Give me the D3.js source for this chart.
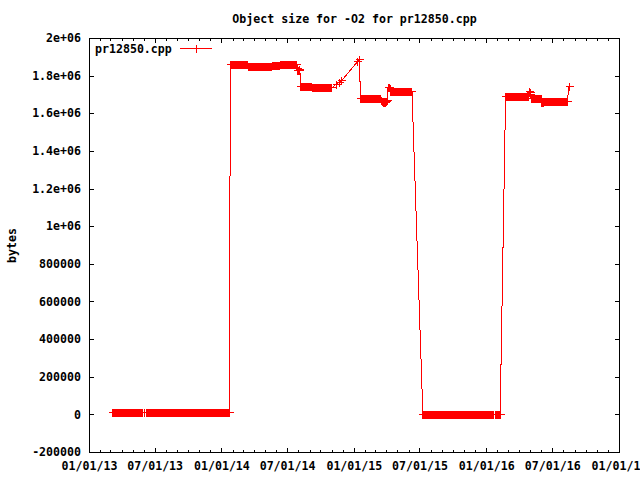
<!DOCTYPE html>
<html>
<head>
<meta charset="utf-8">
<script src="https://cdn.jsdelivr.net/npm/d3@7"></script>
<style>
body { margin: 0; background: #fff; }
text { font-family: "DejaVu Sans Mono", monospace; font-size: 11.6px; font-weight: bold; fill: #000; }
</style>
</head>
<body>
<script>
var width = 640,
    height = 480;

// axis ticks
var xTicks = ["2013-01-01", "2013-07-01", "2014-01-01", "2014-07-01", "2015-01-01",
              "2015-07-01", "2016-01-01", "2016-07-01", "2017-01-01"];
var xTickLabels = ["01/01/13", "07/01/13", "01/01/14", "07/01/14", "01/01/15",
                   "07/01/15", "01/01/16", "07/01/16", "01/01/17"];
var yTicks = [-200000, 0, 200000, 400000, 600000, 800000, 1000000,
              1200000, 1400000, 1600000, 1800000, 2000000];
var yTickLabels = ["-200000", "0", "200000", "400000", "600000", "800000", "1e+06",
                   "1.2e+06", "1.4e+06", "1.6e+06", "1.8e+06", "2e+06"];

// object size in kB, one build every 2 days from the run's start date
var runStarts = ["2013-03-06", "2013-06-06", "2014-01-24", "2015-01-18",
                 "2015-07-09", "2016-01-26", "2016-02-22"];

var size2013a = [
  10, 10, 10, 10, 10, 10, 10, 10, 10, 10, 10, 10, 10, 10, 10, 10, 10, 10, 10, 10,
  10, 10, 10, 10, 10, 10, 10, 10, 10, 10, 10, 10, 10, 10, 10, 10, 10, 10, 10, 10,
  10, 10];

var size2013b = [
  10, 10, 10, 10, 10, 10, 10, 10, 10, 10, 10, 10, 10, 10, 10, 10, 10, 10, 10, 10,
  10, 10, 10, 10, 10, 10, 10, 10, 10, 10, 10, 10, 10, 10, 10, 10, 10, 10, 10, 10,
  10, 10, 10, 10, 10, 10, 10, 10, 10, 10, 10, 10, 10, 10, 10, 10, 10, 10, 10, 10,
  10, 10, 10, 10, 10, 10, 10, 10, 10, 10, 10, 10, 10, 10, 10, 10, 10, 10, 10, 10,
  10, 10, 10, 10, 10, 10, 10, 10, 10, 10, 10, 10, 10, 10, 10, 10, 10, 10, 10, 10,
  10, 10, 10, 10, 10, 10, 10, 10, 10, 10, 10, 10, 10, 10, 10, 10];

var size2014 = [
  1860, 1860, 1860, 1860, 1860, 1860, 1860, 1860, 1860, 1860, 1860, 1860, 1860, 1860, 1860, 1860, 1860, 1860, 1860, 1860,
  1860, 1860, 1860, 1860, 1860,
  1852, 1852, 1852, 1852, 1852, 1852, 1852, 1852, 1852, 1852, 1852, 1852, 1852, 1852, 1852, 1852, 1852, 1852, 1852, 1852,
  1852, 1852, 1852, 1852, 1852, 1852, 1852, 1852, 1852, 1852, 1852, 1852, 1852,
  1857, 1857, 1857, 1857, 1857, 1857, 1857, 1857, 1857, 1857, 1857,
  1860, 1860, 1860, 1860, 1860, 1860, 1860, 1860, 1860, 1860, 1860, 1860, 1860, 1860, 1860, 1860, 1860, 1860, 1860, 1860,
  1860, 1860, 1860,
  1840, 1832, 1828, 1836, 1830,
  1745, 1745, 1745, 1745, 1745, 1745, 1745, 1745, 1745, 1745, 1745, 1745, 1745, 1745, 1745, 1745,
  1742, 1742, 1742, 1742, 1742, 1742, 1742, 1742, 1742, 1742,
  1737, 1737, 1737, 1737, 1737, 1737, 1737, 1737, 1737, 1737, 1737, 1737, 1737, 1737, 1737, 1737, 1737, 1737];

var size2015a = [
  1680, 1680, 1680, 1680, 1680, 1680, 1680, 1680, 1680, 1680, 1680, 1680, 1680, 1680, 1680, 1680, 1680, 1680, 1680, 1680,
  1680, 1680, 1680, 1680, 1680, 1680, 1680, 1680, 1680,
  1668, 1666, 1664, 1662, 1658, 1662, 1664, 1666, 1668,
  1742, 1740, 1738, 1735,
  1718, 1718, 1718, 1718, 1718, 1718, 1718, 1718, 1718, 1718, 1718, 1718, 1718, 1718, 1718, 1718, 1718, 1718, 1718, 1718,
  1718, 1718, 1718, 1718, 1718, 1718, 1718, 1718, 1718, 1718];

var size2015b = [
  0, 0, 0, 0, 0, 0, 0, 0, 0, 0, 0, 0, 0, 0, 0, 0, 0, 0, 0, 0,
  0, 0, 0, 0, 0, 0, 0, 0, 0, 0, 0, 0, 0, 0, 0, 0, 0, 0, 0, 0,
  0, 0, 0, 0, 0, 0, 0, 0, 0, 0, 0, 0, 0, 0, 0, 0, 0, 0, 0, 0,
  0, 0, 0, 0, 0, 0, 0, 0, 0, 0, 0, 0, 0, 0, 0, 0, 0, 0, 0, 0,
  0, 0, 0, 0, 0, 0, 0, 0, 0, 0, 0, 0, 0, 0, 0, 0, 0, 0];

var size2016a = [0, 0, 0, 0, 0, 0, 0];

var size2016b = [
  1691, 1691, 1691, 1691, 1691, 1691, 1691, 1691, 1691, 1691, 1691, 1691, 1691, 1691, 1691, 1691, 1691, 1691, 1691, 1691,
  1691, 1691, 1691, 1691, 1691, 1691, 1691, 1691, 1691, 1691, 1691, 1691,
  1705, 1720, 1712, 1700,
  1680, 1680, 1680, 1680, 1680, 1680, 1680, 1680, 1680, 1680, 1680, 1680, 1680, 1680,
  1662, 1658, 1662,
  1666, 1666, 1666, 1666, 1666, 1666, 1666, 1666, 1666, 1666, 1666, 1666, 1666, 1666, 1666, 1666, 1666, 1666, 1666, 1666,
  1666, 1666, 1666, 1666, 1666, 1666, 1666, 1666, 1666, 1666, 1666, 1666, 1666];

// single builds outside the runs
var sparseDates = ["2013-06-01", "2014-11-12", "2014-11-20", "2014-11-28",
                   "2015-01-10", "2015-01-15", "2016-08-15"];
var sparseSizes = [10, 1758, 1768, 1778, 1878, 1890, 1745];

var runSizes = [size2013a, size2013b, size2014, size2015a, size2015b, size2016a, size2016b];

var parse = d3.timeParse("%Y-%m-%d");

var points = [];
runStarts.forEach(function(s, i) {
  var t0 = parse(s);
  runSizes[i].forEach(function(v, j) {
    points.push({date: d3.timeDay.offset(t0, j * 2), size: v * 1000});
  });
});
sparseDates.forEach(function(s, i) {
  points.push({date: parse(s), size: sparseSizes[i] * 1000});
});
points.sort(function(a, b) { return a.date - b.date; });

var svg = d3.select("body").append("svg")
    .attr("width", width)
    .attr("height", height)
    .style("display", "block")
    .attr("shape-rendering", "crispEdges");

svg.append("rect")
    .attr("width", width)
    .attr("height", height)
    .attr("fill", "#fff");

var x = d3.scaleTime()
    .domain([parse(xTicks[0]), parse(xTicks[xTicks.length - 1])])
    .range([89, 619]);

var y = d3.scaleLinear()
    .domain([yTicks[0], yTicks[yTicks.length - 1]])
    .range([452, 38]);

var xMajor = xTicks.map(parse);
var months = d3.timeMonth.range(x.domain()[0], d3.timeDay.offset(x.domain()[1], 1));

function clean(g) {
  g.attr("font-family", null).attr("font-size", null);
  g.select(".domain").remove();
}

// minor x ticks, bottom and top
svg.append("g")
    .attr("transform", "translate(0,453)")
    .call(d3.axisBottom(x).tickValues(months).tickSizeInner(-3).tickSizeOuter(0).tickFormat(""))
    .call(clean);
svg.append("g")
    .attr("transform", "translate(0,38)")
    .call(d3.axisTop(x).tickValues(months).tickSizeInner(-3).tickSizeOuter(0).tickFormat(""))
    .call(clean);

// major x ticks
svg.append("g")
    .attr("transform", "translate(0,453)")
    .call(d3.axisBottom(x).tickValues(xMajor).tickSizeInner(-5).tickSizeOuter(0).tickPadding(9)
      .tickFormat(function(d, i) { return xTickLabels[i]; }))
    .call(clean);
svg.append("g")
    .attr("transform", "translate(0,38)")
    .call(d3.axisTop(x).tickValues(xMajor).tickSizeInner(-5).tickSizeOuter(0).tickFormat(""))
    .call(clean);

// y ticks
svg.append("g")
    .attr("transform", "translate(89,0)")
    .call(d3.axisLeft(y).tickValues(yTicks).tickSizeInner(-5).tickSizeOuter(0).tickPadding(8)
      .tickFormat(function(d, i) { return yTickLabels[i]; }))
    .call(clean);
svg.append("g")
    .attr("transform", "translate(620,0)")
    .call(d3.axisRight(y).tickValues(yTicks).tickSizeInner(-5).tickSizeOuter(0).tickFormat(""))
    .call(clean);

// plot border
svg.append("rect")
    .attr("x", 89.5)
    .attr("y", 38.5)
    .attr("width", 530)
    .attr("height", 414)
    .attr("fill", "none")
    .attr("stroke", "#000");

// title and y label
svg.append("text")
    .attr("x", 354.5)
    .attr("y", 22.5)
    .attr("text-anchor", "middle")
    .text("Object size for -O2 for pr12850.cpp");

svg.append("text")
    .attr("transform", "translate(15.5,245.5) rotate(-90)")
    .attr("text-anchor", "middle")
    .text("bytes");

function cross(px, py) {
  return "M" + (px - 4) + "," + py + "h8M" + px + "," + (py - 4) + "v8";
}

var plot = svg.append("g")
    .attr("transform", "translate(0.5,0.5)");

var line = d3.line()
    .x(function(d) { return x(d.date); })
    .y(function(d) { return y(d.size); });

plot.append("path")
    .datum(points)
    .attr("fill", "none")
    .attr("stroke", "#ff0000")
    .attr("d", line);

plot.selectAll(".pt")
    .data(points)
  .enter().append("path")
    .attr("class", "pt")
    .attr("fill", "none")
    .attr("stroke", "#ff0000")
    .attr("d", function(d) { return cross(Math.round(x(d.date)), Math.round(y(d.size))); });

// legend
var key = svg.append("g");
key.append("text")
    .attr("x", 95)
    .attr("y", 52.5)
    .text("pr12850.cpp");
key.append("path")
    .attr("fill", "none")
    .attr("stroke", "#ff0000")
    .attr("d", "M180,48.5H212" + cross(196.5, 48.5));
</script>
</body>
</html>
